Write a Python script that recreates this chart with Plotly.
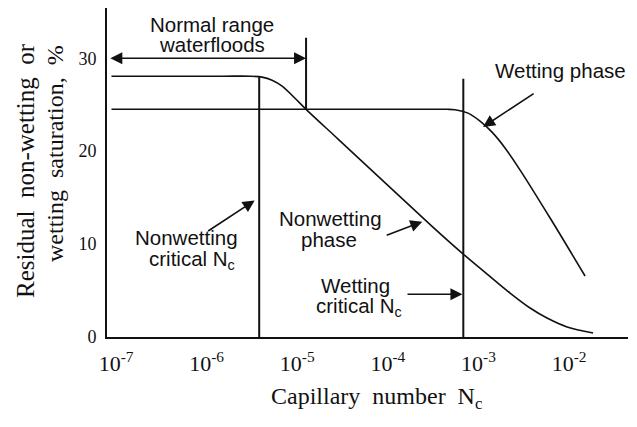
import math
import plotly.graph_objects as go

# ---- data ----
nonwet_nc = [8.9e-8, 1.5e-6, 3.01e-6, 4.08e-6, 5.27e-6, 6.8e-6, 9.2e-6, 1.25e-5, 2.82e-5, 3.16e-4,
             6.59e-4, 1.245e-3, 2.23e-3, 3.71e-3, 5.71e-3, 9.5e-3, 1.84e-2]
nonwet_s = [28.06, 28.06, 28.06, 27.96, 27.63, 26.99, 25.8, 24.5, 21.3, 11.8,
            9.03, 6.77, 4.73, 3.12, 2.04, 1.08, 0.43]

wet_nc = [8.9e-8, 2.0e-4, 4.5e-4, 5.52e-4, 7.67e-4, 1.04e-3, 1.41e-3, 1.97e-3, 2.88e-3,
          6.17e-3, 1.50e-2]
wet_s = [24.5, 24.5, 24.5, 24.46, 24.09, 23.23, 22.04, 20.32, 17.96, 12.8, 6.56]

nonwet_crit_nc = 3.8e-6
nonwet_crit_top = 28.06
normal_range_end_nc = 1.25e-5
normal_range_line_s = [24.5, 32.2]
wet_crit_nc = 6.8e-4
wet_crit_top = 27.8

y_ticks = [0, 10, 20, 30]
x_tick_vals = [1e-7, 1e-6, 1e-5, 1e-4, 1e-3, 1e-2]
x_tick_text = ["10<sup>-7</sup>", "10<sup>-6</sup>", "10<sup>-5</sup>",
               "10<sup>-4</sup>", "10<sup>-3</sup>", "10<sup>-2</sup>"]

SERIF = "Liberation Serif, Times New Roman, serif"
SANS = "Liberation Sans, Arial, Helvetica, sans-serif"
BLACK = "#111111"

fig = go.Figure()
fig.add_trace(go.Scatter(x=nonwet_nc, y=nonwet_s, mode="lines",
                         line=dict(color=BLACK, width=1.6, shape="spline", smoothing=0.9),
                         hoverinfo="skip"))
fig.add_trace(go.Scatter(x=wet_nc, y=wet_s, mode="lines",
                         line=dict(color=BLACK, width=1.6, shape="spline", smoothing=0.9),
                         hoverinfo="skip"))
fig.add_trace(go.Scatter(x=[nonwet_crit_nc, nonwet_crit_nc], y=[0, nonwet_crit_top], mode="lines",
                         line=dict(color=BLACK, width=2), hoverinfo="skip"))
fig.add_trace(go.Scatter(x=[normal_range_end_nc, normal_range_end_nc], y=normal_range_line_s,
                         mode="lines", line=dict(color=BLACK, width=2), hoverinfo="skip"))
fig.add_trace(go.Scatter(x=[wet_crit_nc, wet_crit_nc], y=[0, wet_crit_top], mode="lines",
                         line=dict(color=BLACK, width=2), hoverinfo="skip"))

L = math.log10
ann = []


def text(x, y, t, size=20.5):
    ann.append(dict(x=x, y=y, xref="x", yref="y", text=t, showarrow=False,
                    font=dict(family=SANS, size=size, color=BLACK),
                    xanchor="center", yanchor="middle"))


def arrow(x0, y0, x1, y1, side="end"):
    ann.append(dict(x=x1, y=y1, ax=x0, ay=y0, xref="x", yref="y", axref="x", ayref="y",
                    text="", showarrow=True, arrowhead=2, arrowsize=1.5, arrowwidth=1.6,
                    arrowcolor=BLACK, arrowside=side, standoff=0, startstandoff=0))


text(-5.94, 33.6, "Normal range")
text(-5.94, 31.45, "waterfloods")
text(-2.09, 28.7, "Wetting phase")
text(-6.22, 10.75, "Nonwetting")
text(-6.16, 8.3, "critical N<sub>c</sub>")
text(-4.63, 12.7, "Nonwetting")
text(-4.65, 10.5, "phase")
text(-4.36, 5.5, "Wetting")
text(-4.32, 3.2, "critical N<sub>c</sub>")

arrow(-7.08, 30.0, L(normal_range_end_nc), 30.0, side="end+start")
arrow(-2.375, 26.3, -2.95, 22.6)
arrow(-6.00, 11.3, -5.47, 14.7)
arrow(-4.03, 10.9, -3.62, 12.4)
arrow(-3.80, 4.6, L(wet_crit_nc) - 0.01, 4.6)

# axis titles (positions given in pixels, converted to paper coords below)
ann.append(dict(x=376, y=398, xref="paper", yref="paper",
                text="Capillary&nbsp; number&nbsp; N<sub>c</sub>",
                showarrow=False, font=dict(family=SERIF, size=24, color=BLACK)))
ann.append(dict(x=25, y=171, xref="paper", yref="paper",
                text="Residual&nbsp; non-wetting&nbsp; or",
                showarrow=False, textangle=-90, font=dict(family=SERIF, size=25, color=BLACK)))
ann.append(dict(x=55, y=154, xref="paper", yref="paper",
                text="wetting&nbsp; saturation,&nbsp; %",
                showarrow=False, textangle=-90, font=dict(family=SERIF, size=24, color=BLACK)))

W, H = 637, 427
ml, mr, mt, mb = 107, 9, 8, 90
pw, ph = W - ml - mr, H - mt - mb
for a in ann:
    if a["xref"] == "paper":
        a["x"] = (a["x"] - ml) / pw
        a["y"] = 1 - (a["y"] - mt) / ph
        a["xanchor"] = "center"
        a["yanchor"] = "middle"

fig.update_layout(
    width=W, height=H,
    margin=dict(l=ml, r=mr, t=mt, b=mb, autoexpand=False),
    paper_bgcolor="white", plot_bgcolor="white",
    showlegend=False,
    annotations=ann,
    xaxis=dict(type="log", range=[-7.10, -1.35], showgrid=False, zeroline=False,
               showline=True, linecolor=BLACK, linewidth=2, ticks="", automargin=False,
               tickvals=x_tick_vals, ticktext=x_tick_text,
               tickfont=dict(family=SERIF, size=22, color=BLACK), ticklabelstandoff=6),
    yaxis=dict(range=[0, 35.4], showgrid=False, zeroline=False, automargin=False,
               showline=True, linecolor=BLACK, linewidth=2, ticks="",
               tickvals=y_ticks, tickfont=dict(family=SERIF, size=18, color=BLACK),
               ticklabelstandoff=5),
)

fig.write_html("out.html", config={"displayModeBar": False},
               post_script="document.body.style.margin='0';document.body.style.overflow='hidden';")
